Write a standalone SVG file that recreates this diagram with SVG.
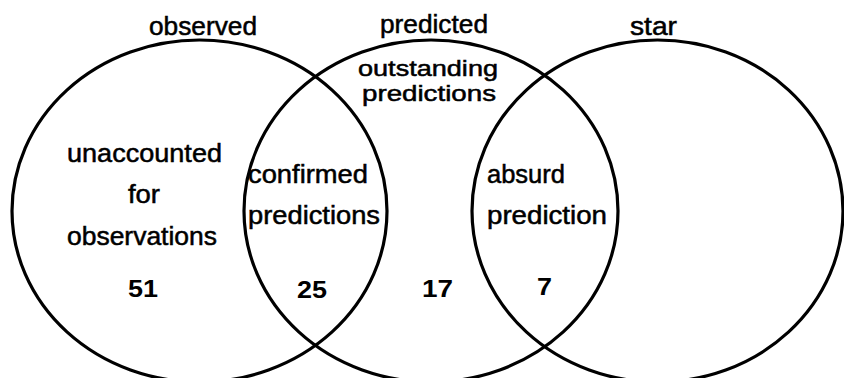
<svg xmlns="http://www.w3.org/2000/svg" width="844" height="378" viewBox="0 0 844 378">
<style>
.set{fill:none;stroke:#000;stroke-width:3.2}
.t{font-family:"Liberation Sans",Arial,sans-serif;font-size:25px;fill:#000;stroke:#000;stroke-width:0.5}
.s{font-size:22px}
.n{font-family:"Liberation Sans",Arial,sans-serif;font-size:23px;font-weight:bold;fill:#000}
</style>
<rect width="844" height="378" fill="#fff"/>
<g id="observed">
<ellipse class="set" cx="199.5" cy="211" rx="187.5" ry="171"/>
<text class="t" x="149" y="35" textLength="108" lengthAdjust="spacingAndGlyphs">observed</text>
</g>
<g id="predicted">
<ellipse class="set" cx="431" cy="211" rx="187" ry="171"/>
<text class="t" x="380" y="33" textLength="108" lengthAdjust="spacingAndGlyphs">predicted</text>
</g>
<g id="star">
<ellipse class="set" cx="657.5" cy="211" rx="185.5" ry="171"/>
<text class="t" x="630" y="35" textLength="47" lengthAdjust="spacingAndGlyphs">star</text>
</g>
<g id="unaccounted">
<text class="t" x="67" y="162" textLength="155" lengthAdjust="spacingAndGlyphs">unaccounted</text>
<text class="t" x="128" y="203" textLength="32" lengthAdjust="spacingAndGlyphs">for</text>
<text class="t" x="67" y="245" textLength="150" lengthAdjust="spacingAndGlyphs">observations</text>
<text class="n" x="128" y="297" textLength="30" lengthAdjust="spacingAndGlyphs">51</text>
</g>
<g id="confirmed">
<text class="t" x="248" y="183" textLength="120" lengthAdjust="spacingAndGlyphs">confirmed</text>
<text class="t" x="248" y="224" textLength="132" lengthAdjust="spacingAndGlyphs">predictions</text>
<text class="n" x="297" y="298" textLength="30" lengthAdjust="spacingAndGlyphs">25</text>
</g>
<g id="outstanding">
<text class="t s" x="358" y="76" textLength="140" lengthAdjust="spacingAndGlyphs">outstanding</text>
<text class="t s" x="362" y="101" textLength="134" lengthAdjust="spacingAndGlyphs">predictions</text>
<text class="n" x="422" y="297" textLength="31" lengthAdjust="spacingAndGlyphs">17</text>
</g>
<g id="absurd">
<text class="t" x="487" y="183" textLength="78" lengthAdjust="spacingAndGlyphs">absurd</text>
<text class="t" x="487" y="224" textLength="120" lengthAdjust="spacingAndGlyphs">prediction</text>
<text class="n" x="537" y="295" textLength="15" lengthAdjust="spacingAndGlyphs">7</text>
</g>
<g id="connectors"></g>
</svg>
